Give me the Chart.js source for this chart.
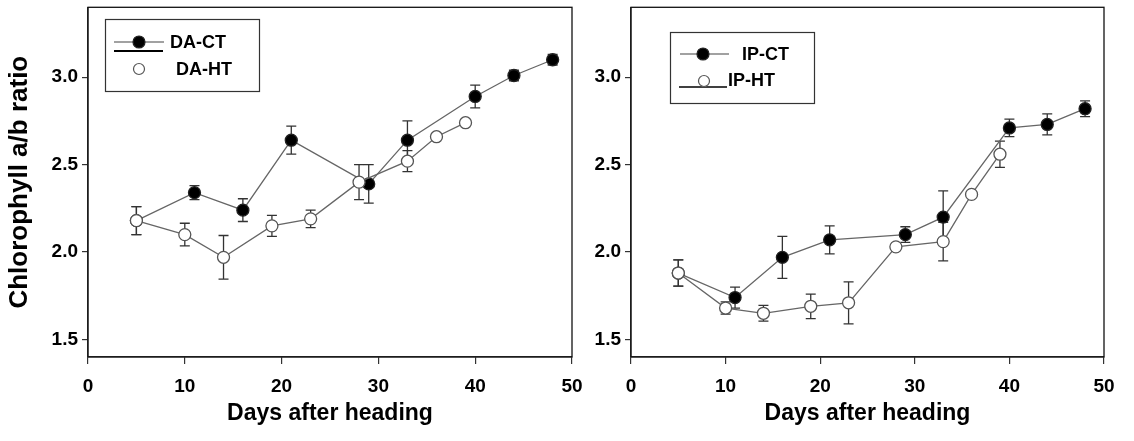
<!DOCTYPE html>
<html>
<head>
<meta charset="utf-8">
<script src="https://cdn.jsdelivr.net/npm/chart.js@4.4.1/dist/chart.umd.min.js"></script>
<style>
  body { margin: 0; background: #fff; }
  #wrap { position: relative; width: 1134px; height: 441px; }
  .panel { position: absolute; top: 0; height: 441px; }
  #leftBox { left: 0; width: 600px; }
  #rightBox { left: 560px; width: 574px; }
</style>
</head>
<body>
<div id="wrap">
  <div class="panel" id="leftBox"><canvas id="leftChart"></canvas></div>
  <div class="panel" id="rightBox"><canvas id="rightChart"></canvas></div>
</div>
<script>
const xTicks = [0, 10, 20, 30, 40, 50];
const yTicks = [1.5, 2.0, 2.5, 3.0];

const ctDays = [5, 11, 16, 21, 29, 33, 40, 44, 48];
const htDays = [5, 10, 14, 19, 23, 28, 33, 36, 39];

// DA panel
const daCT    = [2.18, 2.34, 2.24, 2.64, 2.39, 2.64, 2.89, 3.01, 3.10];
const daCTErr = [0.08, 0.04, 0.065, 0.08, 0.11, 0.11, 0.065, 0.03, 0.03];
const daHT    = [2.18, 2.10, 1.97, 2.15, 2.19, 2.40, 2.52, 2.66, 2.74];
const daHTErr = [0.08, 0.065, 0.125, 0.06, 0.05, 0.10, 0.06, 0, 0];

// IP panel
const ipCT    = [1.88, 1.74, 1.97, 2.07, 2.10, 2.20, 2.71, 2.73, 2.82];
const ipCTErr = [0.075, 0.06, 0.12, 0.08, 0.045, 0.15, 0.05, 0.06, 0.045];
const ipHT    = [1.88, 1.68, 1.65, 1.69, 1.71, 2.03, 2.06, 2.33, 2.56];
const ipHTErr = [0.075, 0.035, 0.045, 0.07, 0.12, 0, 0.11, 0, 0.075];

const FONT = 'Arial, "Liberation Sans", sans-serif';
Chart.defaults.font.family = FONT;
Chart.defaults.color = '#000';

function points(days, vals) {
  return days.map((d, i) => ({ x: d, y: vals[i] }));
}

function series(days, vals, errs, filled, order) {
  return {
    data: points(days, vals),
    errors: errs,
    order: order,
    borderColor: '#666',
    borderWidth: 1.3,
    pointRadius: 6,
    pointHoverRadius: 6,
    pointBackgroundColor: filled ? '#000' : '#fff',
    pointBorderColor: filled ? '#222' : '#555',
    pointBorderWidth: 1.3,
    tension: 0,
  };
}

// error bars drawn behind lines and markers
const errorBars = {
  id: 'errorBars',
  beforeDatasetsDraw(chart) {
    const ctx = chart.ctx;
    const yScale = chart.scales.y;
    ctx.save();
    ctx.strokeStyle = '#333';
    ctx.lineWidth = 1.3;
    chart.data.datasets.forEach((ds, i) => {
      const meta = chart.getDatasetMeta(i);
      meta.data.forEach((pt, j) => {
        const e = ds.errors[j];
        if (!e) return;
        const v = ds.data[j].y;
        const top = yScale.getPixelForValue(v + e);
        const bot = yScale.getPixelForValue(v - e);
        ctx.beginPath();
        ctx.moveTo(pt.x, top); ctx.lineTo(pt.x, bot);
        ctx.moveTo(pt.x - 5, top); ctx.lineTo(pt.x + 5, top);
        ctx.moveTo(pt.x - 5, bot); ctx.lineTo(pt.x + 5, bot);
        ctx.stroke();
      });
    });
    ctx.restore();
  }
};

// box around the plot area
const frame = {
  id: 'frame',
  beforeDatasetsDraw(chart) {
    const a = chart.chartArea;
    const ctx = chart.ctx;
    ctx.save();
    ctx.strokeStyle = '#111';
    ctx.lineWidth = 1.3;
    ctx.strokeRect(a.left, a.top, a.right - a.left, a.bottom - a.top);
    ctx.restore();
  }
};

function keyLine(ctx, x1, x2, y, color, w) {
  ctx.strokeStyle = color;
  ctx.lineWidth = w;
  ctx.beginPath();
  ctx.moveTo(x1, y); ctx.lineTo(x2, y);
  ctx.stroke();
}

function keyDot(ctx, x, y, filled) {
  ctx.beginPath();
  ctx.arc(x, y, filled ? 6 : 5.5, 0, Math.PI * 2);
  ctx.fillStyle = filled ? '#000' : '#fff';
  ctx.fill();
  ctx.strokeStyle = filled ? '#222' : '#555';
  ctx.lineWidth = 1.2;
  ctx.stroke();
}

function keyText(ctx, str, x, y) {
  ctx.fillStyle = '#000';
  ctx.font = 'bold 18px ' + FONT;
  ctx.textAlign = 'left';
  ctx.textBaseline = 'middle';
  ctx.fillText(str, x, y);
}

const leftKey = {
  id: 'leftKey',
  afterDraw(chart) {
    const ctx = chart.ctx;
    ctx.save();
    ctx.strokeStyle = '#333';
    ctx.lineWidth = 1.2;
    ctx.strokeRect(105.5, 19.5, 154, 72);
    keyLine(ctx, 114, 164, 42, '#444', 1.2);
    keyLine(ctx, 114, 163, 51, '#000', 2);
    keyDot(ctx, 139, 42, true);
    keyDot(ctx, 139, 69, false);
    keyText(ctx, 'DA-CT', 170, 43);
    keyText(ctx, 'DA-HT', 176, 70);
    ctx.restore();
  }
};

const rightKey = {
  id: 'rightKey',
  afterDraw(chart) {
    const ctx = chart.ctx;
    ctx.save();
    ctx.strokeStyle = '#333';
    ctx.lineWidth = 1.2;
    ctx.strokeRect(110.5, 32.5, 144, 71);
    keyLine(ctx, 120, 169, 54, '#444', 1.2);
    keyLine(ctx, 119, 167, 87, '#000', 1.6);
    keyDot(ctx, 143, 54, true);
    keyDot(ctx, 144, 81, false);
    keyText(ctx, 'IP-CT', 182, 55);
    keyText(ctx, 'IP-HT', 168, 81);
    ctx.restore();
  }
};

function makeChart(id, ctVals, ctErr, htVals, htErr, axisWidth, padRight, yTitle, key) {
  const tickFont = { size: 19, weight: 'bold' };
  return new Chart(document.getElementById(id), {
    type: 'line',
    data: {
      datasets: [
        series(ctDays, ctVals, ctErr, true, 2),
        series(htDays, htVals, htErr, false, 1),
      ]
    },
    options: {
      responsive: true,
      maintainAspectRatio: false,
      animation: false,
      layout: { padding: { top: 7, right: padRight, left: 0, bottom: 0 } },
      plugins: { legend: { display: false }, tooltip: { enabled: false } },
      scales: {
        x: {
          type: 'linear',
          min: 0,
          max: 50,
          afterBuildTicks: (s) => { s.ticks = xTicks.map(v => ({ value: v })); },
          afterFit: (s) => { s.height = 84; s.paddingLeft = 0; s.paddingRight = 0; },
          grid: { drawOnChartArea: false, tickLength: 7, color: '#333', lineWidth: 1.2 },
          border: { display: true, color: '#333', width: 1.3 },
          ticks: { font: tickFont, padding: 11, maxRotation: 0 },
          title: {
            display: true,
            text: 'Days after heading',
            font: { size: 23, weight: 'bold' },
            padding: { top: 0, bottom: 14 },
          },
        },
        y: {
          min: 1.4,
          max: 3.4,
          afterBuildTicks: (s) => { s.ticks = yTicks.map(v => ({ value: v })); },
          afterFit: (s) => { s.width = axisWidth; s.paddingTop = 0; s.paddingBottom = 0; },
          grid: { drawOnChartArea: false, tickLength: 6, color: '#333', lineWidth: 1.2 },
          border: { display: true, color: '#333', width: 1.3 },
          ticks: { font: tickFont, padding: 4, callback: (v) => Number(v).toFixed(1) },
          title: {
            display: !!yTitle,
            text: yTitle,
            font: { size: 26, weight: 'bold' },
            padding: { top: 4, bottom: 0 },
          },
        }
      }
    },
    plugins: [frame, errorBars, key]
  });
}

makeChart('leftChart', daCT, daCTErr, daHT, daHTErr, 88, 28, 'Chlorophyll a/b ratio', leftKey);
makeChart('rightChart', ipCT, ipCTErr, ipHT, ipHTErr, 71, 30, '', rightKey);
</script>
</body>
</html>
